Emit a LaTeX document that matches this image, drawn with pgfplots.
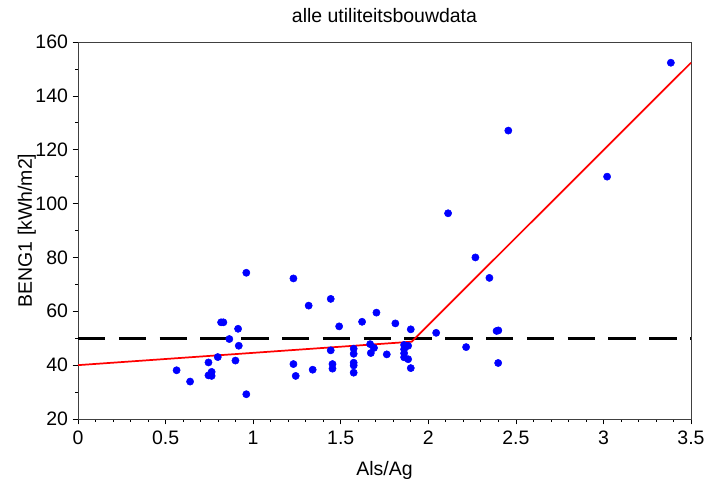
\documentclass[border=0pt]{standalone}
\usepackage{fontspec}
\setmainfont{Liberation Sans}
\usepackage{pgfplots}
\pgfplotsset{compat=1.18}
\begin{document}
\begin{tikzpicture}[font=\fontsize{14.6}{17.5}\selectfont]
\useasboundingbox (-58.5pt,-45pt) rectangle (471.75pt,314.25pt);
\begin{axis}[
  scale only axis,
  width=459.75pt, height=282.75pt,
  xmin=0, xmax=3.5, ymin=20, ymax=160,
  xtick={0,0.5,...,3.5},
  ytick={20,40,...,160},
  minor x tick num=4,
  minor y tick num=1,
  tick align=outside,
  xtick pos=bottom, ytick pos=left,
  major tick length=4pt,
  minor tick length=2.2pt,
  every tick/.style={black, line width=0.5pt},
  axis line style={black!75, line width=0.6pt},
  /pgf/number format/assume math mode=true,
  /pgf/number format/fixed,
  xticklabel style={yshift=-1.5pt},
  title={alle utiliteitsbouwdata},
  title style={at={(axis description cs:0.5,1)}, anchor=base, yshift=8.3pt, inner sep=0pt},
  xlabel={Als/Ag},
  ylabel={BENG1 [kWh/m2]},
  xlabel style={at={(axis description cs:0.5,0)}, anchor=base, yshift=-42.5pt, inner sep=0pt},
  ylabel style={at={(axis description cs:0,0.5)}, anchor=base, yshift=34.5pt, inner sep=0pt},
  clip=false,
]
\addplot[black, line width=2.2pt, dash pattern=on 20.6pt off 10pt] coordinates {(0,50) (3.5,50)};
\addplot[only marks, mark=*, mark size=2.7pt, color=blue, mark options={draw=blue, fill=blue}] coordinates {
(0.563,38.1) (0.640,33.9) (0.745,41.0) (0.745,36.2) (0.763,37.5) (0.763,36.0)
(0.798,43.0) (0.817,55.9) (0.830,55.9) (0.864,49.7) (0.899,41.7) (0.914,53.5)
(0.918,47.2) (0.961,74.3) (0.961,29.2) (1.230,72.2) (1.230,40.4) (1.243,36.0)
(1.317,62.1) (1.340,38.3) (1.443,64.6) (1.443,45.5) (1.453,40.4) (1.453,38.7)
(1.491,54.4) (1.574,46.1) (1.574,44.2) (1.574,40.9) (1.574,39.9) (1.574,37.2)
(1.622,56.1) (1.668,47.8) (1.690,46.4) (1.672,44.5) (1.704,59.5) (1.763,44.0)
(1.812,55.5) (1.862,47.5) (1.885,47.2) (1.862,45.9) (1.862,44.4) (1.862,42.9)
(1.885,42.2) (1.900,38.9) (1.900,53.3) (2.045,52.0) (2.113,96.4) (2.216,46.7)
(2.269,80.0) (2.349,72.4) (2.390,52.7) (2.400,52.9) (2.399,40.8) (2.457,127.1)
(3.021,110.0) (3.385,152.3)
};
\addplot[red, line width=1.3pt] coordinates {(0,40) (1.905,48.7) (3.5,152.3)};
\end{axis}
\end{tikzpicture}
\end{document}
